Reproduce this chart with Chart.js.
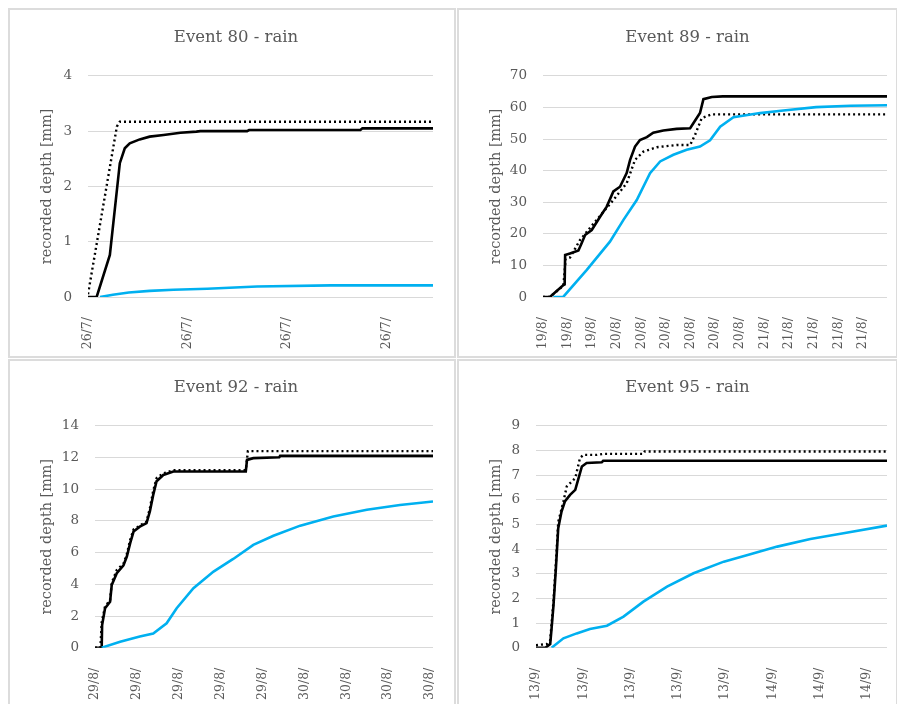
<!DOCTYPE html>
<html><head><meta charset="utf-8">
<script src="https://cdn.jsdelivr.net/npm/chart.js@4.4.1/dist/chart.umd.min.js"></script>
<style>
body{margin:0;background:#fff;width:897px;height:704px;overflow:hidden;position:relative}
.panel{position:absolute;border:2px solid #dcdcdc;box-sizing:border-box}
canvas{position:absolute}
</style></head><body>
<div class="panel" style="left:8px;top:8px;width:448px;height:350px"></div>
<div class="panel" style="left:457px;top:8px;width:441px;height:350px"></div>
<div class="panel" style="left:8px;top:359px;width:448px;height:400px"></div>
<div class="panel" style="left:457px;top:359px;width:441px;height:400px"></div>
<canvas id="c80" width="444" height="346" style="left:10px;top:10px"></canvas>
<canvas id="c89" width="436" height="346" style="left:459px;top:10px"></canvas>
<canvas id="c92" width="444" height="343" style="left:10px;top:361px"></canvas>
<canvas id="c95" width="436" height="343" style="left:459px;top:361px"></canvas>
<script>
// ---------- DATA (time in tick-label intervals, depth in mm) ----------
const yAxisTitle = "recorded depth [mm]";

// Event 80
const title80 = "Event 80 - rain";
const labels80 = ["26/7/", "26/7/", "26/7/", "26/7/"];
const timeMax80 = 3.47;
const time80Solid = [0, 0.087, 0.22, 0.32, 0.37, 0.42, 0.52, 0.62, 0.76, 0.93, 1.09, 1.13, 1.6, 1.62, 2.74, 2.76, 3.47];
const depth80Solid = [0, 0, 0.76, 2.42, 2.69, 2.78, 2.85, 2.90, 2.93, 2.97, 2.99, 3.0, 3.0, 3.02, 3.02, 3.05, 3.05];
const time80Dotted = [0, 0.29, 0.32, 3.47];
const depth80Dotted = [0.05, 3.08, 3.17, 3.17];
const time80Blue = [0.12, 0.25, 0.41, 0.62, 0.86, 1.2, 1.7, 2.44, 3.47];
const depth80Blue = [0, 0.04, 0.08, 0.11, 0.13, 0.15, 0.19, 0.21, 0.21];

// Event 89
const title89 = "Event 89 - rain";
const labels89 = ["19/8/", "19/8/", "19/8/", "20/8/", "20/8/", "20/8/", "20/8/", "20/8/", "20/8/", "21/8/", "21/8/", "21/8/", "21/8/", "21/8/"];
const timeMax89 = 13.98;
const time89Solid = [0, 0.28, 0.83, 0.88, 0.9, 1.1, 1.44, 1.57, 1.71, 1.98, 2.32, 2.59, 2.86, 3.13, 3.4, 3.54, 3.74, 3.94, 4.22, 4.48, 4.89, 5.43, 5.98, 6.11, 6.38, 6.52, 6.86, 7.3, 13.98];
const depth89Solid = [0, 0, 3.8, 4.0, 13.3, 13.8, 14.7, 17, 19.6, 21.2, 25.4, 28.6, 33.4, 34.9, 39.2, 43.4, 47.6, 49.7, 50.6, 52, 52.7, 53.2, 53.4, 55, 58.2, 62.6, 63.3, 63.5, 63.5];
const time89Dotted = [0, 0.28, 0.83, 0.92, 1.1, 1.5, 2.18, 2.86, 3.4, 3.74, 4.08, 4.62, 5.43, 5.98, 6.18, 6.45, 6.86, 13.98];
const depth89Dotted = [0, 0, 3.6, 12.0, 12.5, 18, 24.4, 30.7, 36, 43.4, 46, 47.4, 48.1, 48.1, 51.3, 56.6, 57.8, 57.8];
const time89Blue = [0.42, 0.83, 1.78, 2.72, 3.27, 3.81, 4.35, 4.76, 5.3, 5.84, 6.38, 6.79, 7.2, 7.74, 8.82, 9.77, 11.1, 12.5, 13.98];
const depth89Blue = [0, 0.1, 8.6, 17.5, 24.4, 30.7, 39.2, 42.9, 45, 46.6, 47.6, 49.6, 53.9, 56.9, 58.2, 59, 60.1, 60.5, 60.7];

// Event 92
const title92 = "Event 92 - rain";
const labels92 = ["29/8/", "29/8/", "29/8/", "29/8/", "29/8/", "30/8/", "30/8/", "30/8/", "30/8/"];
const timeMax92 = 8.07;
const time92Solid = [0, 0.16, 0.17, 0.24, 0.36, 0.4, 0.52, 0.68, 0.76, 0.84, 0.92, 1.07, 1.23, 1.31, 1.39, 1.47, 1.63, 1.87, 3.6, 3.63, 3.78, 4.4, 4.42, 8.07];
const depth92Solid = [0, 0, 1.43, 2.49, 2.9, 3.96, 4.7, 5.2, 5.75, 6.6, 7.33, 7.64, 7.86, 8.6, 9.64, 10.5, 10.9, 11.12, 11.12, 11.85, 11.96, 12.02, 12.1, 12.1];
const time92Dotted = [0, 0.13, 0.16, 0.24, 0.36, 0.4, 0.52, 0.68, 0.76, 0.84, 0.92, 1.07, 1.23, 1.31, 1.39, 1.47, 1.63, 1.87, 3.6, 3.65, 8.07];
const depth92Dotted = [0, 0, 1.6, 2.6, 3.0, 4.1, 4.9, 5.3, 5.9, 6.8, 7.45, 7.7, 7.95, 8.8, 9.9, 10.7, 11.0, 11.2, 11.2, 12.4, 12.4];
const time92Blue = [0.16, 0.6, 1.07, 1.39, 1.71, 1.95, 2.35, 2.83, 3.3, 3.78, 4.26, 4.9, 5.69, 6.49, 7.28, 8.07];
const depth92Blue = [0, 0.38, 0.7, 0.9, 1.54, 2.49, 3.75, 4.8, 5.6, 6.49, 7.06, 7.7, 8.28, 8.7, 9.0, 9.22];

// Event 95
const title95 = "Event 95 - rain";
const labels95 = ["13/9/", "13/9/", "13/9/", "13/9/", "13/9/", "14/9/", "14/9/", "14/9/"];
const timeMax95 = 7.42;
const time95Solid = [0, 0.2, 0.3, 0.33, 0.37, 0.42, 0.47, 0.54, 0.61, 0.72, 0.83, 0.9, 0.97, 1.07, 1.39, 1.42, 7.42];
const depth95Solid = [0, 0, 0.15, 0.79, 1.73, 3.2, 4.85, 5.52, 5.93, 6.2, 6.4, 6.88, 7.35, 7.49, 7.52, 7.58, 7.58];
const time95Dotted = [0, 0.23, 0.3, 0.37, 0.42, 0.47, 0.58, 0.65, 0.83, 0.93, 1.0, 1.29, 1.42, 2.27, 2.3, 7.42];
const depth95Dotted = [0.1, 0.15, 0.3, 1.9, 3.4, 5.1, 5.93, 6.54, 6.88, 7.69, 7.82, 7.82, 7.86, 7.86, 7.96, 7.96];
const time95Blue = [0.33, 0.58, 0.86, 1.14, 1.5, 1.85, 2.27, 2.77, 3.33, 3.97, 4.53, 5.1, 5.8, 6.5, 7.42];
const depth95Blue = [0, 0.38, 0.58, 0.76, 0.89, 1.26, 1.87, 2.48, 3.02, 3.49, 3.79, 4.1, 4.41, 4.64, 4.95];

// ---------- RENDERING ----------
const FONT = "'DejaVu Serif', serif";
const TXT = "#595959";
const pts = (xs, ys) => xs.map((x, i) => ({x: x, y: ys[i]}));

function makeChart(id, o) {
  const canvas = document.getElementById(id);
  const H = canvas.height;
  new Chart(canvas, {
    type: 'line',
    data: {
      datasets: [
        {data: pts(o.tb, o.yb), borderColor: '#00b0f0', borderWidth: 2.6, pointRadius: 0, tension: 0},
        {data: pts(o.ts, o.ys), borderColor: '#000000', borderWidth: 2.6, pointRadius: 0, tension: 0},
        {data: pts(o.td, o.yd), borderColor: '#000000', borderWidth: 2.4, borderDash: [2, 3], pointRadius: 0, tension: 0}
      ]
    },
    options: {
      responsive: false, animation: false, devicePixelRatio: 1,
      layout: {padding: {left: 29, right: o.padR, top: 0, bottom: 0}},
      plugins: {
        legend: {display: false}, tooltip: {enabled: false},
        title: {display: true, text: o.title, color: TXT,
          font: {family: FONT, size: 16.5, weight: 'normal', lineHeight: 1.2},
          padding: {top: o.titleY - 10, bottom: o.top - o.titleY - 10}}
      },
      scales: {
        x: {
          type: 'linear', min: 0, max: o.xmax,
          grid: {display: false}, border: {display: false},
          afterBuildTicks: s => { s.ticks = o.labels.map((l, i) => ({value: i})); },
          afterFit: s => { s.height = H - o.bottom; s.paddingLeft = 0; s.paddingRight = 0; },
          ticks: {autoSkip: false, minRotation: 90, maxRotation: 90, padding: 12, color: TXT,
            font: {family: FONT, size: 12.5}, callback: (v, i) => o.labels[i]}
        },
        y: {
          min: 0, max: o.ymax,
          grid: {color: '#d9d9d9', lineWidth: 1, drawTicks: false}, border: {display: false},
          afterFit: s => { s.width = o.left - 29; s.paddingTop = 0; s.paddingBottom = 0; },
          ticks: {stepSize: o.ystep, padding: 16, color: TXT, font: {family: FONT, size: 13.5}},
          title: {display: true, text: yAxisTitle, color: TXT, padding: 0,
            font: {family: FONT, size: 14.4, lineHeight: 1.2}}
        }
      }
    }
  });
}

makeChart('c80', {title: title80, labels: labels80, xmax: timeMax80, ymax: 4, ystep: 1,
  ts: time80Solid, ys: depth80Solid, td: time80Dotted, yd: depth80Dotted, tb: time80Blue, yb: depth80Blue,
  left: 78, padR: 21, top: 66, bottom: 287, titleY: 28});
makeChart('c89', {title: title89, labels: labels89, xmax: timeMax89, ymax: 70, ystep: 10,
  ts: time89Solid, ys: depth89Solid, td: time89Dotted, yd: depth89Dotted, tb: time89Blue, yb: depth89Blue,
  left: 84, padR: 8, top: 66, bottom: 287, titleY: 28});
makeChart('c92', {title: title92, labels: labels92, xmax: timeMax92, ymax: 14, ystep: 2,
  ts: time92Solid, ys: depth92Solid, td: time92Dotted, yd: depth92Dotted, tb: time92Blue, yb: depth92Blue,
  left: 85, padR: 21, top: 65, bottom: 286.7, titleY: 27});
makeChart('c95', {title: title95, labels: labels95, xmax: timeMax95, ymax: 9, ystep: 1,
  ts: time95Solid, ys: depth95Solid, td: time95Dotted, yd: depth95Dotted, tb: time95Blue, yb: depth95Blue,
  left: 77, padR: 8, top: 65, bottom: 286.7, titleY: 27});
</script>
</body></html>
